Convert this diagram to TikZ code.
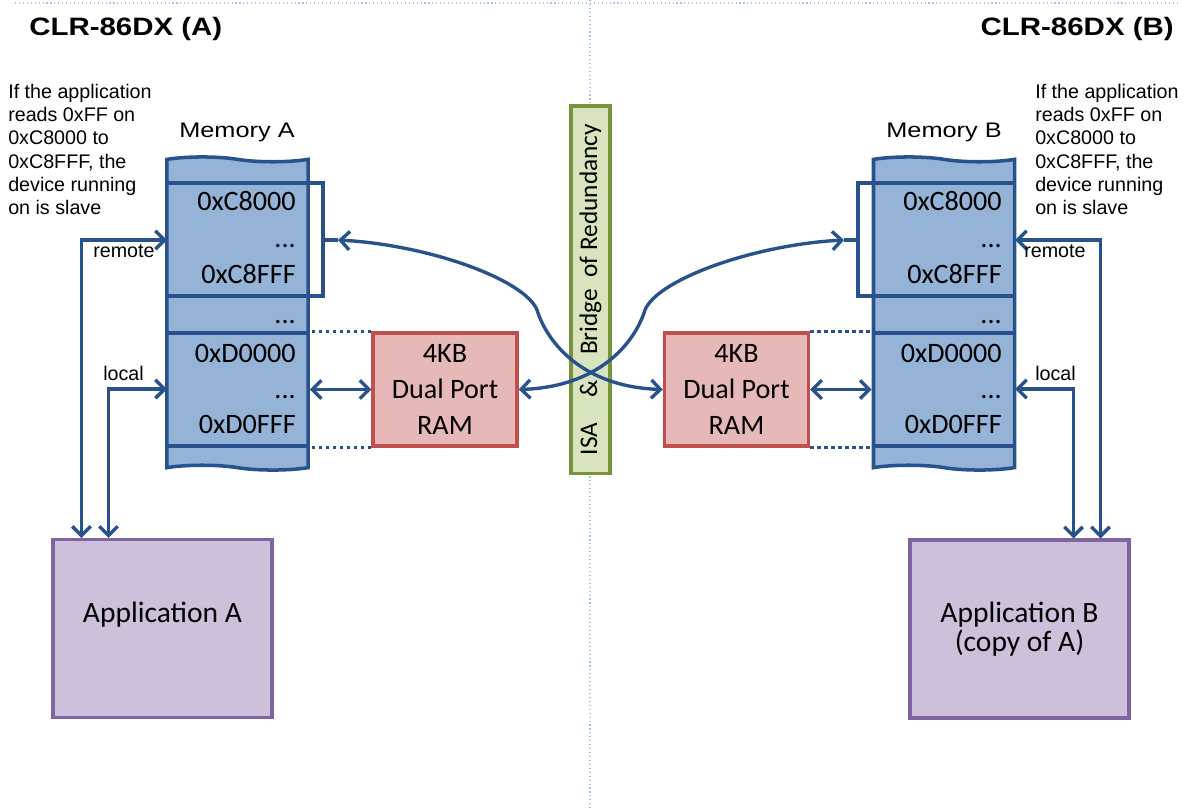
\documentclass[tikz,border=0pt]{standalone}
\usepackage{fontspec}
\setmainfont{Carlito}
\newfontfamily\notefont{Liberation Sans}
\newfontfamily\widefont[FakeStretch=1.2]{Liberation Sans}
\newfontfamily\ttlfont[FakeStretch=1.17]{Liberation Sans}
\usetikzlibrary{arrows.meta,shapes.symbols}
\definecolor{memfill}{RGB}{149,179,215}
\definecolor{memline}{RGB}{40,82,140}
\definecolor{ramfill}{RGB}{230,184,183}
\definecolor{ramline}{RGB}{192,80,77}
\definecolor{isafill}{RGB}{215,228,189}
\definecolor{isaline}{RGB}{119,147,60}
\definecolor{appfill}{RGB}{204,192,218}
\definecolor{appline}{RGB}{128,100,162}
\definecolor{guidec}{RGB}{165,195,230}

\begin{document}
\begin{tikzpicture}[x=0.025cm,y=-0.025cm,
  >={Straight Barb[length=2.3mm,width=4.6mm]},
  mem/.style={tape,tape bend top=out and in,tape bend bottom=out and in,
    tape bend height=0.12cm,draw=memline,fill=memfill,line width=2.5pt,
    minimum width=3.525cm,minimum height=7.825cm,inner sep=0pt},
  sep/.style={memline,line width=2.5pt},
  addr/.style={font=\fontsize{20}{24}\selectfont,anchor=base east,inner sep=0pt},
  ram/.style={draw=ramline,fill=ramfill,line width=2.4pt,align=center,
    minimum width=3.6cm,minimum height=2.825cm,font=\fontsize{20}{25.6}\selectfont},
  app/.style={draw=appline,fill=appfill,line width=2.2pt,align=center,
    minimum width=5.475cm,minimum height=4.45cm,font=\fontsize{21}{20.6}\selectfont},
  isa/.style={draw=isaline,fill=isafill,line width=2.2pt,rotate=90,
    minimum width=9.175cm,minimum height=0.975cm,inner sep=0pt,
    font=\fontsize{18}{20}\selectfont},
  link/.style={memline,line width=2.4pt,<->},
  dots/.style={memline,line width=2.5pt,dash pattern=on 2.5pt off 2.5pt},
  ttl/.style={font=\ttlfont\bfseries\fontsize{17.9}{20}\selectfont,inner sep=0pt},
  memlbl/.style={font=\widefont\fontsize{15}{18}\selectfont,inner sep=0pt,anchor=base},
  note/.style={font=\notefont\fontsize{14}{16.5}\selectfont,align=left,
    inner sep=0pt,anchor=north west},
  lbl/.style={font=\notefont\fontsize{14}{16}\selectfont,inner sep=0pt,anchor=base west},
  guide/.style={guidec,line width=0.8pt,dotted}]
  \useasboundingbox (0,0) rectangle (1190,809);
  % guides
  \draw[guide] (15,3) -- (1180,3);
  \draw[guide] (590,0) -- (590,809);
  % titles
  \node[ttl,anchor=base west] (ttlA) at (29,35) {CLR-86DX (A)};
  \node[ttl,anchor=base east] (ttlB) at (1174,35) {CLR-86DX (B)};
  \node[note] (noteA) at (8,84) {If the application\\reads 0xFF on\\0xC8000 to\\0xC8FFF, the\\device running\\on is slave};
  \node[note] (noteB) at (1035,84) {If the application\\reads 0xFF on\\0xC8000 to\\0xC8FFF, the\\device running\\on is slave};
  % memories
  \node[memlbl] (lblA) at (237,137) {Memory A};
  \node[memlbl] (lblB) at (944,137) {Memory B};
  \node[mem] (memA) at (237.5,313.5) {};
  \node[mem] (memB) at (944,313.5) {};
  \foreach \yy in {183,296,333,446} {
    \draw[sep] (167,\yy) -- (308,\yy);
    \draw[sep] (873,\yy) -- (1015,\yy);
  }
  \foreach \mx/\mn in {296/A,1002/B} {
    \node[addr] (c8s\mn) at (\mx,210) {0xC8000};
    \node[addr] (c8d\mn) at (\mx,247) {...};
    \node[addr] (c8e\mn) at (\mx,283) {0xC8FFF};
    \node[addr] (gap\mn) at (\mx,323) {...};
    \node[addr] (d0s\mn) at (\mx,362) {0xD0000};
    \node[addr] (d0d\mn) at (\mx,398) {...};
    \node[addr] (d0e\mn) at (\mx,433) {0xD0FFF};
  }
  % brackets round the C8000 window
  \draw[sep] (308,183) -| (323,296) -- (308,296);
  \draw[sep] (323,240) -- (338,240);
  \draw[sep] (873,183) -| (858,296) -- (873,296);
  \draw[sep] (858,240) -- (844,240);
  \coordinate (brA) at (338,240);
  \coordinate (brB) at (844,240);
  % dual port rams and the bridge
  \node[ram] (ramA) at (445,389.5) {4KB\\Dual Port\\RAM};
  \node[ram] (ramB) at (736.5,389.5) {4KB\\Dual Port\\RAM};
  \node[isa] (isa) at (590.5,289.5) {ISA\hspace{1em}\&\hspace{1em}Bridge\hspace{0.45em}of Redundancy};
  \draw[dots] (ramA.north west) -- (ramA.north west -| memA.east);
  \draw[dots] (ramA.south west) -- (ramA.south west -| memA.east);
  \draw[dots] (ramB.north east) -- (ramB.north east -| memB.west);
  \draw[dots] (ramB.south east) -- (ramB.south east -| memB.west);
  \draw[link] (ramA.west) -- (ramA.west -| memA.east);
  \draw[link] (ramB.east) -- (ramB.east -| memB.west);
  \draw[link] (brA) .. controls (430,245) and (525,280) .. (537,310)
    .. controls (548,345) and (585,387) .. (ramB.west);
  \draw[link] (brB) .. controls (752,245) and (657,280) .. (645,310)
    .. controls (634,345) and (597,387) .. (ramA.east);
  % applications
  \node[app] (appA) at (162.5,628.5) {Application A\\\phantom{(}};
  \node[app] (appB) at (1019.5,629) {Application B\\(copy of A)};
  \coordinate (remA) at (167,240);
  \coordinate (locA) at (167,389);
  \coordinate (remB) at (1015,240);
  \coordinate (locB) at (1015,389);
  \draw[link] ([xshift=0.75cm]appA.north west) |- (remA);
  \draw[link] ([xshift=1.425cm]appA.north west) |- (locA);
  \draw[link] ([xshift=-0.75cm]appB.north east) |- (remB);
  \draw[link] ([xshift=-1.425cm]appB.north east) |- (locB);
  \node[lbl] (remlA) at (93,257) {remote};
  \node[lbl] (loclA) at (103,380) {local};
  \node[lbl] (remlB) at (1024,257) {remote};
  \node[lbl] (loclB) at (1035,380) {local};
\end{tikzpicture}
\end{document}
